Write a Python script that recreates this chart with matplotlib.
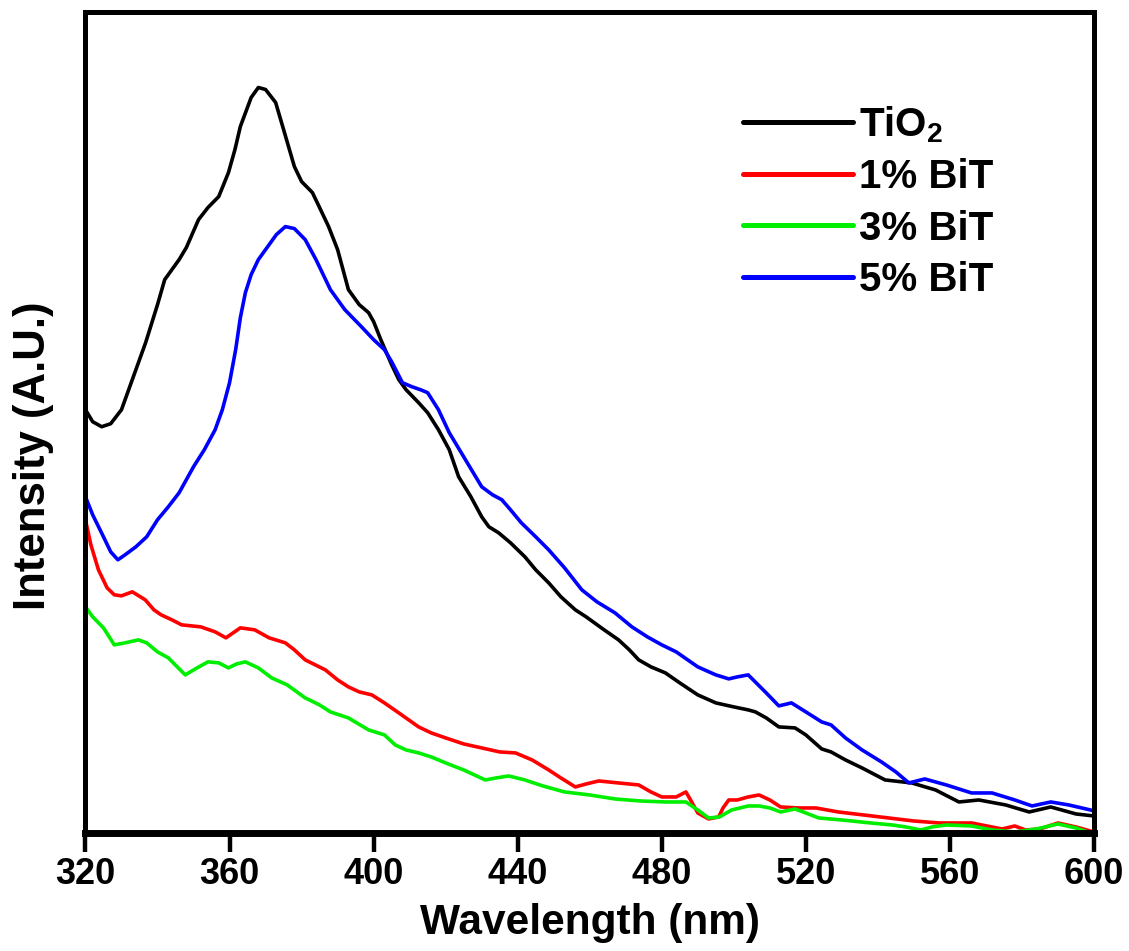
import numpy as np
import matplotlib
matplotlib.use("Agg")
import matplotlib.pyplot as plt

plt.rcParams['font.family'] = ['Liberation Sans', 'DejaVu Sans']
plt.rcParams['font.weight'] = 'bold'
plt.rcParams['mathtext.default'] = 'regular'

# PL spectra (intensity in arbitrary units)
wl_tio2 = [320, 322, 324.5, 327, 330, 333, 336.7, 340, 342, 346, 348, 351.4, 354, 357,
           359.7, 361.5, 363, 366, 368, 370, 372.8, 375, 378, 380, 383, 385, 387.5, 390,
           393, 396, 398.6, 400, 402, 405, 407, 409, 412.5, 415, 418, 421, 423.6, 427,
           430, 432, 434.7, 438, 442, 445, 448.6, 452, 456, 459, 464, 468, 471, 473.6,
           477, 481, 485, 490, 495, 500, 504, 506, 509, 512.5, 517, 520, 524.4, 527, 531,
           535.6, 542, 549.4, 556, 562.5, 568, 575.5, 582, 588, 595, 600]
i_tio2 = [423, 411, 406, 409, 423, 453, 490, 528, 553, 573, 585, 613, 625, 636,
          660, 683, 706, 735, 745, 743, 730, 703, 666, 651, 640, 625, 606, 583,
          543, 528, 520, 511, 493, 468, 453, 443, 430, 420, 403, 383, 356, 336,
          316, 306, 300, 290, 276, 263, 250, 236, 223, 216, 203, 193, 183, 173,
          166, 160, 150, 138, 130, 126, 123, 121, 115, 106, 105, 98, 84, 81, 73,
          65, 53, 50, 43, 31, 33, 28, 21, 26, 19, 17]

wl_1 = [320, 321.5, 323.6, 326, 328, 330, 333, 336.6, 339, 341, 344, 346.7, 352, 356,
        359, 361, 363, 367, 371, 375.5, 378, 381, 386.6, 390, 393, 396, 399.5, 403,
        407, 412.5, 416, 420, 425, 430, 435, 439.4, 444, 448.6, 452, 456, 459, 462.5,
        468, 473.6, 477, 480, 484, 486.7, 488, 490, 493, 495.8, 497, 498.6, 501, 504,
        507, 510, 513, 518, 522.8, 529, 536, 543, 550, 557, 566, 574.5, 578, 581, 585,
        590, 595, 599, 600]
i_1 = [313, 288, 263, 245, 238, 237, 241, 233, 223, 218, 213, 208, 206, 201,
       195, 200, 205, 203, 195, 190, 183, 173, 163, 153, 146, 141, 138, 130,
       120, 106, 100, 95, 89, 85, 81, 80, 73, 63, 55, 46, 49, 52,
       50, 48, 41, 36, 36, 41, 33, 20, 14, 16, 25, 33, 33, 36,
       38, 33, 26, 25, 25, 21, 18, 15, 12, 10, 10, 4, 7, 3, 4,
       10, 6, 2, 1]

wl_3 = [320, 322, 325, 328, 331, 334.7, 337, 340, 343, 347.7, 351, 354, 357, 359.7,
        362, 364.4, 368, 371.7, 376, 381, 385, 388, 393, 398.6, 403, 406, 409, 412.5,
        416, 420, 425, 431, 434, 437.5, 442, 447, 453, 460, 467, 474, 481, 486.7, 490,
        493, 496, 499.4, 504, 507, 510, 513, 517, 520, 523.6, 530, 538, 544, 547.8,
        552, 555, 559, 566, 571.7, 575, 578, 584, 590, 595, 599, 600]
i_3 = [226, 216, 205, 188, 190, 193, 190, 181, 175, 158, 165, 171, 170, 165,
       169, 171, 165, 155, 148, 135, 128, 121, 115, 103, 98, 88, 83, 80,
       76, 70, 63, 53, 55, 57, 53, 47, 41, 38, 34, 32, 31, 31, 23,
       15, 16, 23, 27, 27, 25, 21, 24, 20, 15, 13, 10, 8, 6,
       3, 6, 8, 7, 3, 2, 1, 4, 9, 5, 0, -1]

wl_5 = [320, 322, 325, 327, 329, 331, 334, 337, 340, 343, 346, 350, 353, 356, 358,
        360, 361.7, 363, 364.4, 366, 368, 371, 373, 375.5, 378, 381, 384, 388, 392,
        396.6, 400, 403, 405, 408, 410.6, 413, 415, 418, 421, 425, 430, 433, 435.6,
        438, 441, 445, 448.6, 453, 457.8, 462, 467, 471.7, 476, 480, 484, 490, 495,
        498.6, 501, 504, 509, 512.5, 516, 520, 524.4, 527, 531, 535.6, 541, 545,
        548.6, 553, 559, 566, 571.7, 578, 582.8, 588, 593, 599, 600]
i_5 = [336, 318, 296, 281, 273, 278, 286, 296, 313, 326, 340, 366, 383, 403, 423,
       450, 483, 515, 540, 558, 573, 588, 598, 606, 604, 593, 573, 543, 523,
       506, 493, 483, 471, 450, 446, 443, 440, 423, 400, 376, 346, 338, 333,
       323, 310, 296, 283, 265, 243, 231, 220, 206, 196, 188, 181, 166, 158,
       154, 156, 158, 140, 127, 130, 121, 111, 108, 95, 83, 71, 61,
       50, 54, 48, 40, 40, 33, 27, 31, 28, 23, 22]

labels = ['TiO$_{2}$', '1% BiT', '3% BiT', '5% BiT']
colors = ['#000000', '#ff0000', '#00ee00', '#0000ff']
x_ticks = [320, 360, 400, 440, 480, 520, 560, 600]

fig = plt.figure(figsize=(11.29, 9.51), dpi=100)
ax = fig.add_axes([0.0757, 0.1241, 0.8933, 0.8628])

series = [(wl_tio2, i_tio2), (wl_1, i_1), (wl_3, i_3), (wl_5, i_5)]
for (wl, it), lab, col in zip(series, labels, colors):
    ax.plot(wl, it, color=col, lw=2.6, label=lab,
            solid_joinstyle='round', solid_capstyle='round')

ax.set_xlim(320, 600)
ax.set_ylim(0, 820)
ax.set_xticks(x_ticks)
ax.set_yticks([])
ax.tick_params(axis='x', direction='out', length=13.5, width=3.2, pad=4, labelsize=26)
for side in ['left', 'top', 'right']:
    ax.spines[side].set_linewidth(3.6)
ax.spines['bottom'].set_linewidth(5)

ax.set_xlabel('Wavelength (nm)', fontsize=30.5, fontweight='bold', labelpad=8)
ax.set_ylabel('Intensity (A.U.)', fontsize=31.5, fontweight='bold')
ax.yaxis.set_label_coords(-0.031, 0.46)

leg = ax.legend(loc='upper left', bbox_to_anchor=(0.652, 0.888), frameon=False,
                fontsize=29, handlelength=2.72, handletextpad=0.15,
                labelspacing=0.33, borderpad=0, borderaxespad=0)
for ln in leg.get_lines():
    ln.set_linewidth(3.6)

fig.savefig('out.png', dpi=100)
